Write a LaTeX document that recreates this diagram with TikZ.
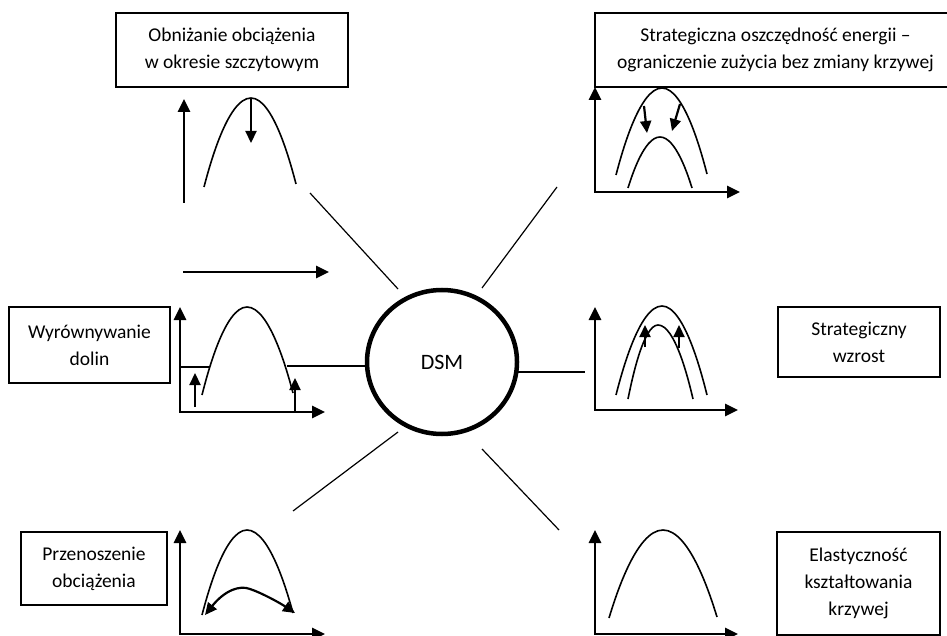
\documentclass[tikz,border=0pt]{standalone}
\usepackage{fontspec}
\setmainfont{Carlito}
\usetikzlibrary{arrows.meta,shapes.geometric}

\tikzset{
  boxlabel/.style={draw, line width=1.3pt, align=center, inner sep=0pt,
    font=\fontsize{19.5}{27}\selectfont},
  hub/.style={draw, ellipse, line width=4.5pt, inner sep=0pt,
    minimum width=150pt, minimum height=144pt, font=\fontsize{22}{26}\selectfont},
  spoke/.style={line width=1.2pt},
  axisarrow/.style={line width=2.6pt, line join=miter,
    {Triangle[length=13pt,width=12pt]}-{Triangle[length=13pt,width=12pt]}},
  uparrow/.style={line width=2.6pt, -{Triangle[length=13pt,width=12pt]}},
  shiftarrow/.style={line width=2.2pt, -{Triangle[length=12pt,width=11pt]}},
  loadcurve/.style={line width=1.6pt},
}

\begin{document}
\begin{tikzpicture}[x=1pt, y=-1pt]
\useasboundingbox (0,0) rectangle (947,636);

% central hub
\node[hub] (dsm) at (442,362) {DSM};

% strategy boxes
\node[boxlabel, minimum width=232pt, minimum height=74pt] (peak) at (232,50)
  {Obniżanie obciążenia\\w okresie szczytowym};
\node[boxlabel, minimum width=361pt, minimum height=74pt] (save) at (775.5,50)
  {Strategiczna oszczędność energii –\\ograniczenie zużycia bez zmiany krzywej};
\node[boxlabel, minimum width=161pt, minimum height=76pt] (valley) at (89.5,345)
  {Wyrównywanie\\dolin};
\node[boxlabel, minimum width=162pt, minimum height=70pt] (grow) at (859,342)
  {Strategiczny\\wzrost};
\node[boxlabel, minimum width=146pt, minimum height=73pt] (shift) at (94,568.5)
  {Przenoszenie\\obciążenia};
\node[boxlabel, minimum width=163pt, minimum height=103pt] (flex) at (858.5,583.5)
  {Elastyczność\\kształtowania\\krzywej};

% spokes around the hub
\coordinate (s1a) at (310,193);  \coordinate (s1b) at (398,289);
\coordinate (s2a) at (557,187);  \coordinate (s2b) at (482,288);
\coordinate (s3a) at (287,366);  \coordinate (s3b) at (368,366);
\coordinate (s4a) at (517,372);  \coordinate (s4b) at (585,372);
\coordinate (s5a) at (398,432);  \coordinate (s5b) at (293,511);
\coordinate (s6a) at (482,449);  \coordinate (s6b) at (559,530);
\draw[spoke] (s1a) -- (s1b);
\draw[spoke] (s2a) -- (s2b);
\draw[spoke] (s3a) -- (s3b);
\draw[spoke] (s4a) -- (s4b);
\draw[spoke] (s5a) -- (s5b);
\draw[spoke] (s6a) -- (s6b);

% peak clipping
\draw[uparrow] (184,203) -- (184,99);
\draw[uparrow] (183,272) -- (329,272);
\draw[loadcurve] (204,187) parabola bend (251,98) (296,184);
\draw[shiftarrow] (251,98) -- (251,143);

% strategic conservation
\draw[axisarrow] (595,87) -- (595,192) -- (740,192);
\draw[loadcurve] (616,175) parabola bend (662,88) (707,174);
\draw[loadcurve] (628,188) parabola bend (660,137) (692,188);
\draw[shiftarrow] (644,106) -- (647,133);
\draw[shiftarrow] (680,104) -- (672,131);

% valley filling
\draw[axisarrow] (180,307) -- (180,412) -- (325,412);
\draw[loadcurve] (202,395) parabola bend (247,307) (293,393);
\draw[line width=1.3pt] (180,367) -- (210,367);
\draw[shiftarrow] (195,407) -- (195,373);
\draw[shiftarrow] (295,412) -- (295,378);

% strategic load growth
\draw[axisarrow] (595,307) -- (595,410) -- (738,410);
\draw[loadcurve] (616,395) parabola bend (662,306) (707,395);
\draw[loadcurve] (628,399) parabola bend (658,325) (693,399);
\draw[shiftarrow] (645,347) -- (645,325);
\draw[shiftarrow] (679,348) -- (679,325);

% load shifting
\draw[axisarrow] (180,530) -- (180,634) -- (325,634);
\draw[loadcurve] (202,615) parabola bend (247,530) (293,613);
\draw[line width=2.2pt, {Triangle[length=12pt,width=11pt]}-{Triangle[length=12pt,width=11pt]}]
  (205,615) .. controls (225,590) and (240,585) .. (250,589)
  .. controls (262,593) and (280,603) .. (295,613);

% flexible load shape
\draw[axisarrow] (595,530) -- (595,634) -- (738,634);
\draw[loadcurve] (609,618) parabola bend (663,530) (717,617);

\end{tikzpicture}
\end{document}
